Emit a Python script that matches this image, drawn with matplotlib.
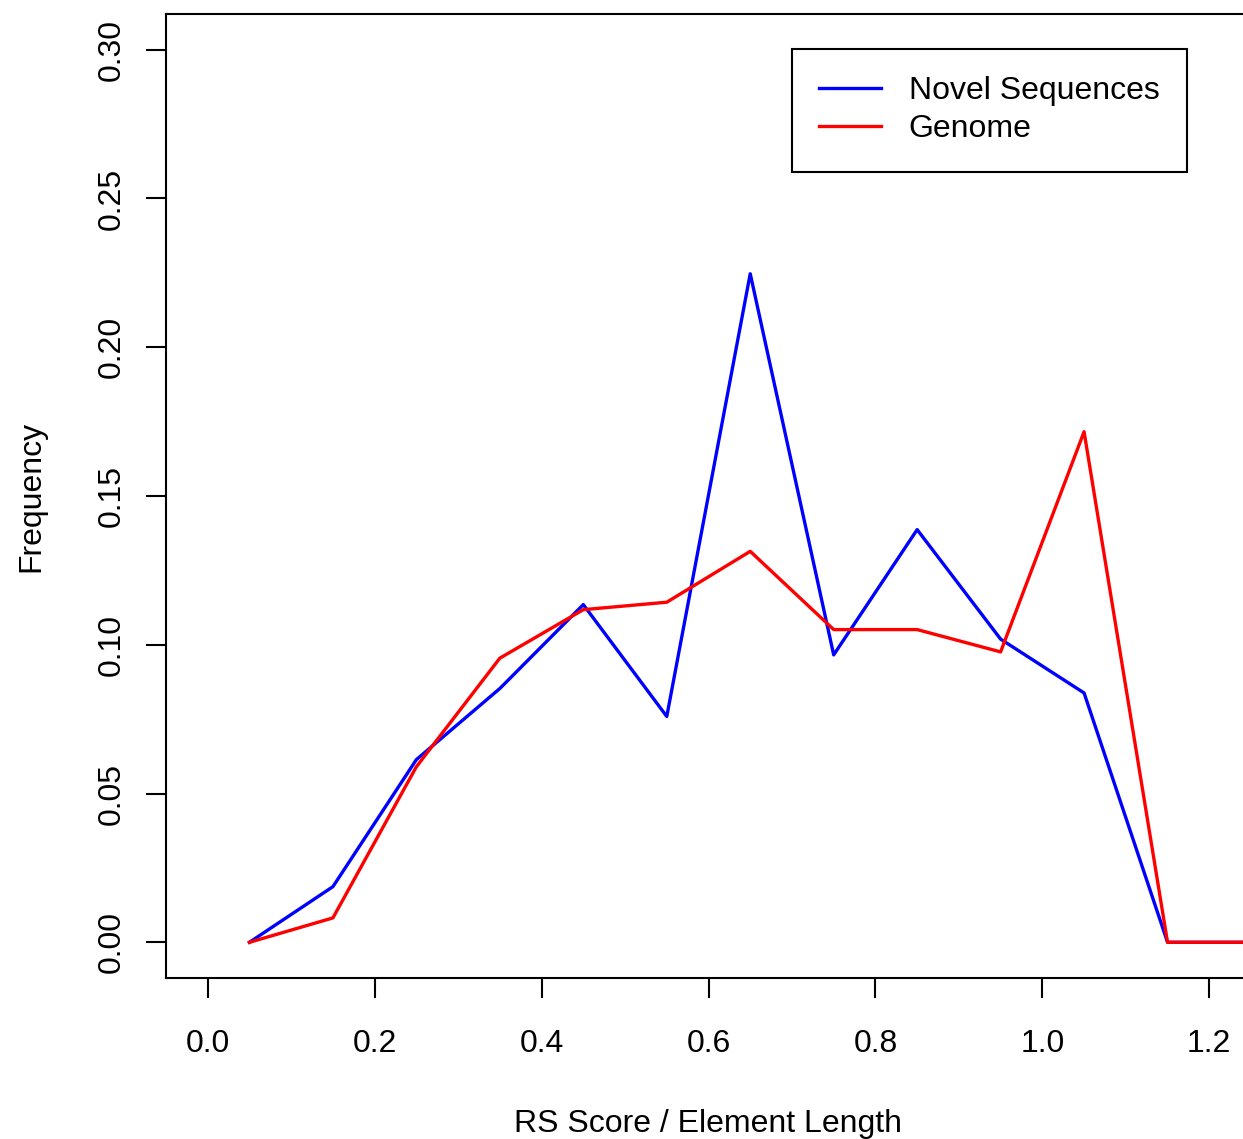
import matplotlib.pyplot as plt
import numpy as np

plt.rcParams['font.family'] = ['Liberation Sans', 'DejaVu Sans']

# bin centres of RS score / element length
x = [0.05, 0.15, 0.25, 0.35, 0.45, 0.55, 0.65, 0.75, 0.85, 0.95, 1.05, 1.15, 1.25]

# novel sequences
novel = [0.0, 0.0187, 0.0614, 0.0853, 0.1135, 0.0759, 0.2247,
         0.0966, 0.1387, 0.1019, 0.0838, 0.0, 0.0]

# genome
genome = [0.0, 0.0082, 0.0590, 0.0955, 0.1118, 0.1143, 0.1314,
          0.1051, 0.1051, 0.0976, 0.1716, 0.0, 0.0]

xticks = [0.0, 0.2, 0.4, 0.6, 0.8, 1.0, 1.2]
yticks = [0.00, 0.05, 0.10, 0.15, 0.20, 0.25, 0.30]

W, H = 1243, 1139
fig = plt.figure(figsize=(W / 100, H / 100), dpi=100)
# plot region ends just past the right edge of the image, as in the original
ax = fig.add_axes([166 / W, 1 - 978 / H, (1251 - 166) / W, 964 / H])

ax.plot(x, novel, color='#0000ff', lw=2.4, label='Novel Sequences')
ax.plot(x, genome, color='#ff0000', lw=2.4, label='Genome')

ax.set_xlim(-0.05, 1.25)
ax.set_ylim(-0.012, 0.312)

ax.set_xticks(xticks)
ax.set_xticklabels(['%.1f' % v for v in xticks])
ax.set_yticks(yticks)
ax.set_yticklabels(['%.2f' % v for v in yticks], rotation=90, va='center')

for s in ax.spines.values():
    s.set_linewidth(1.5)
ax.tick_params(direction='out', length=14.5, width=1.5, labelsize=23,
               colors='black')
ax.tick_params(axis='x', pad=22)
ax.tick_params(axis='y', pad=14)

ax.set_xlabel('RS Score / Element Length', fontsize=23, labelpad=36)
ax.set_ylabel('Frequency', fontsize=23, labelpad=36)

leg = ax.legend(loc='upper left', bbox_to_anchor=(792 / W, 1 - 49 / H),
                bbox_transform=fig.transFigure, fontsize=23,
                fancybox=False, framealpha=1, edgecolor='black',
                handlelength=1.95, handletextpad=0.85, borderpad=0.85,
                labelspacing=0.26, borderaxespad=0)
leg.get_frame().set_linewidth(1.5)

fig.savefig('out.png', dpi=100)
